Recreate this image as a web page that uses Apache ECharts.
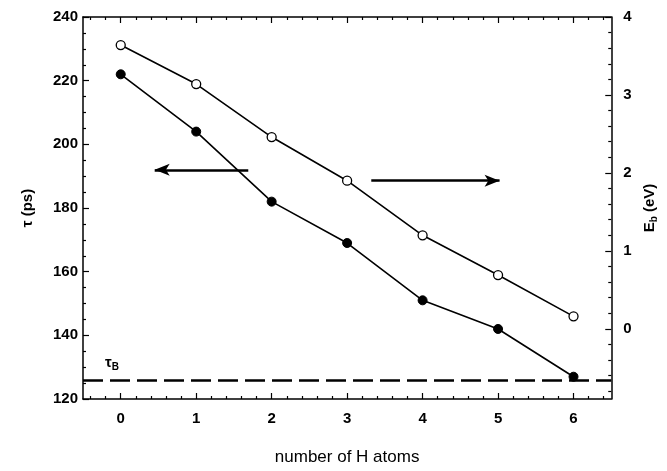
<!DOCTYPE html>
<html>
<head>
<meta charset="utf-8">
<script src="https://cdn.jsdelivr.net/npm/echarts@6/dist/echarts.min.js"></script>
<style>
html,body{margin:0;padding:0;background:#fff;}
#chart{width:667px;height:471px;}
</style>
</head>
<body>
<div id="chart"></div>
<script>
// ---- data ----
const hAtoms = [0, 1, 2, 3, 4, 5, 6];
const tauPs = [222, 204, 182, 169, 151, 142, 127];
const ebEv = [3.64, 3.14, 2.46, 1.90, 1.20, 0.69, 0.16];
const tauB = 126;
const xTickLabels = [0, 1, 2, 3, 4, 5, 6];
const leftTickLabels = [120, 140, 160, 180, 200, 220, 240];
const rightTickLabels = [0, 1, 2, 3, 4];
// arrows (data coordinates): [from, to]
const leftArrow = [[1.69, 192], [0.45, 192]];
const rightArrow = [[3.32, 1.9], [5.02, 1.9]];

// minor tick positions
function steps(a, b, s, skip) {
  const out = [];
  for (let i = 0; a + i * s <= b + 1e-9; i++) {
    const v = Math.round((a + i * s) * 1000) / 1000;
    if (!skip.includes(v)) out.push(v);
  }
  return out;
}
const xMinor = steps(-0.4, 6.4, 0.2, xTickLabels);
const leftMinor = steps(125, 235, 5, leftTickLabels);
const rightMinor = steps(-0.8, 3.8, 0.2, rightTickLabels);

const FONT = "'Liberation Sans', Arial, sans-serif";
const BLACK = '#000';
const TICK_FS = 15;

function xAx(pos, ticks, len, showLine, showLabel, name) {
  return {
    type: 'value', position: pos, min: -0.5, max: 6.5,
    axisLine: { show: showLine, onZero: false, lineStyle: { color: BLACK, width: 1.5 } },
    axisTick: { show: true, inside: true, length: len, customValues: ticks, lineStyle: { color: BLACK, width: 1.2 } },
    axisLabel: showLabel ? { show: true, customValues: ticks, margin: 12, color: BLACK, fontFamily: FONT, fontWeight: 'bold', fontSize: TICK_FS } : { show: false },
    splitLine: { show: false },
    name: name || '',
    nameLocation: 'middle', nameGap: 50,
    nameTextStyle: { color: BLACK, fontFamily: FONT, fontSize: 17 }
  };
}
function yAx(pos, min, max, ticks, len, showLine, showLabel, name, nameGap) {
  return {
    type: 'value', position: pos, min: min, max: max,
    axisLine: { show: showLine, onZero: false, lineStyle: { color: BLACK, width: 1.5 } },
    axisTick: { show: true, inside: true, length: len, customValues: ticks, lineStyle: { color: BLACK, width: 1.2 } },
    axisLabel: showLabel ? { show: true, customValues: ticks, margin: pos === 'left' ? 5 : 12, color: BLACK, fontFamily: FONT, fontWeight: 'bold', fontSize: TICK_FS } : { show: false },
    splitLine: { show: false },
    name: name || '',
    nameLocation: 'middle', nameRotate: 90, nameGap: nameGap || 0,
    nameTextStyle: {
      color: BLACK, fontFamily: FONT, fontWeight: 'bold', fontSize: 15,
      rich: {
        m: { fontFamily: FONT, fontWeight: 'bold', fontSize: 15, color: BLACK },
        s: { fontFamily: FONT, fontWeight: 'bold', fontSize: 10, color: BLACK, verticalAlign: 'bottom', padding: [8, 0, 0, 0] }
      }
    }
  };
}

const chart = echarts.init(document.getElementById('chart'), null, { renderer: 'canvas' });
const arrowMark = (pts) => ({
  silent: true, animation: false,
  symbol: ['none', 'arrow'], symbolSize: [9, 15],
  lineStyle: { color: BLACK, width: 2.5, type: 'solid' },
  label: { show: false },
  data: [[{ coord: pts[0] }, { coord: pts[1] }]]
});

chart.setOption({
  animation: false,
  backgroundColor: '#fff',
  grid: { left: 83, right: 55, top: 17, bottom: 68 },
  xAxis: [
    xAx('bottom', xTickLabels, 6, true, true, 'number of H atoms'),
    xAx('bottom', xMinor, 3, false, false),
    xAx('top', xTickLabels, 6, true, false),
    xAx('top', xMinor, 3, false, false)
  ],
  yAxis: [
    yAx('left', 120, 240, leftTickLabels, 6, true, true, 'τ (ps)', 48),
    yAx('right', -0.9, 4, rightTickLabels, 6, true, true, '{m|E}{s|b}{m| (eV)}', 11),
    yAx('left', 120, 240, leftMinor, 3, false, false),
    yAx('right', -0.9, 4, rightMinor, 3, false, false)
  ],
  series: [
    {
      name: 'tau', type: 'line', xAxisIndex: 0, yAxisIndex: 0,
      data: hAtoms.map((h, i) => [h, tauPs[i]]),
      symbol: 'circle', symbolSize: 9,
      itemStyle: { color: BLACK, borderColor: BLACK, borderWidth: 1 },
      lineStyle: { color: BLACK, width: 1.6 },
      markLine: {
        silent: true, animation: false, symbol: ['none', 'none'],
        lineStyle: { color: BLACK, width: 2.5, type: [20, 7] },
        label: {
          show: true, position: 'insideStartTop', distance: [22, 8],
          formatter: '{t|τ}{b|B}',
          rich: {
            t: { fontFamily: FONT, fontWeight: 'bold', fontSize: 15, color: BLACK },
            b: { fontFamily: FONT, fontWeight: 'bold', fontSize: 10, color: BLACK, padding: [8, 0, 0, 0] }
          }
        },
        data: [{ yAxis: tauB }]
      }
    },
    {
      name: 'eb', type: 'line', xAxisIndex: 0, yAxisIndex: 1,
      data: hAtoms.map((h, i) => [h, ebEv[i]]),
      symbol: 'circle', symbolSize: 9,
      itemStyle: { color: '#fff', borderColor: BLACK, borderWidth: 1.3 },
      lineStyle: { color: BLACK, width: 1.6 },
      z: 3,
      markLine: arrowMark(rightArrow)
    },
    {
      name: 'arrowL', type: 'line', xAxisIndex: 0, yAxisIndex: 0,
      data: [], symbol: 'none',
      markLine: arrowMark(leftArrow)
    }
  ]
});
</script>
</body>
</html>
